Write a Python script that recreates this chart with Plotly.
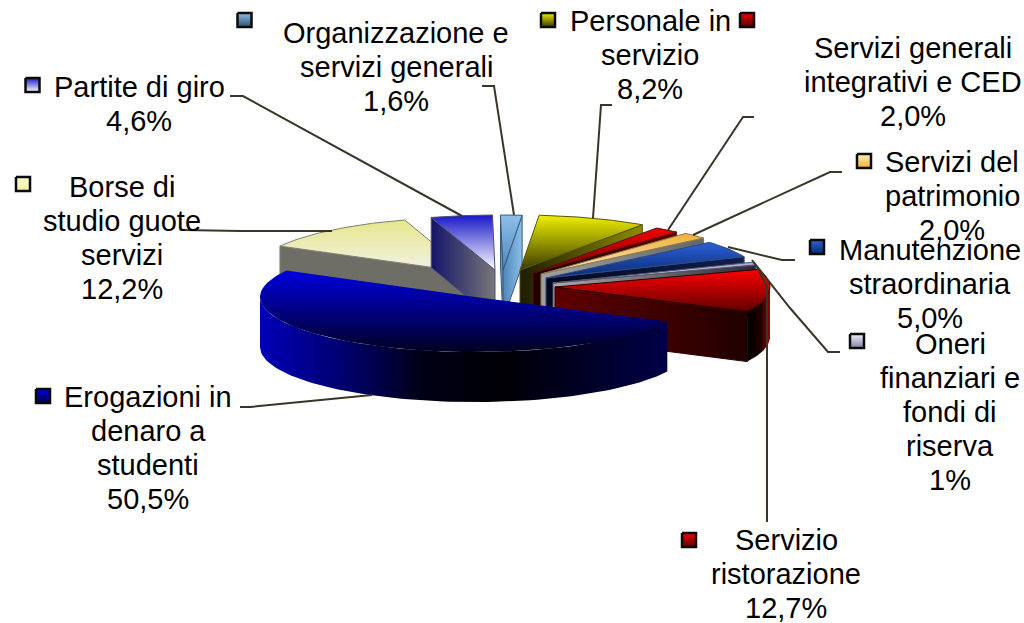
import numpy as np
import plotly.graph_objects as go

# ---- data (clockwise from the top of the pie) ----
categories = ["Personale in<br>servizio", "Servizi generali<br>integrativi e CED", "Servizi del<br>patrimonio",
              "Manutenzione<br>straordinaria", "Oneri<br>finanziari e<br>fondi di<br>riserva", "Servizio<br>ristorazione",
              "Erogazioni in<br>denaro a<br>studenti", "Borse di<br>studio guote<br>servizi", "Partite di giro",
              "Organizzazione e<br>servizi generali"]
values = [8.2, 2.0, 2.0, 5.0, 1.0, 12.7, 50.5, 12.2, 4.6, 1.6]
value_labels = ["8,2%", "2,0%", "2,0%", "5,0%", "1%", "12,7%", "50,5%", "12,2%", "4,6%", "1,6%"]

# ---- pie geometry ----
START_DEG, RX, RY, DEPTH = 5.1, 215, 55, 50
apex_x = [520, 533, 541, 546, 553, 555, 475, 468.5, 495, 503]
apex_y = [270, 273, 274, 278, 283, 287, 297, 272.5, 270, 270]
paint_order = [7, 8, 9, 0, 1, 2, 3, 4, 5, 6]

# ---- styles: top gradient, cut-face gradient, wall gradient, edge colour ----
top_cols = [("#f0f000", "#3a3a00"), ("#f40000", "#700000"), ("#f0b030", "#f8e8c8"), ("#2a60d8", "#0a2a70"),
            ("#a0a0d8", "#ecECF4"), ("#ff0000", "#600000"), ("#0000e0", "#000020"), ("#e6e68a", "#f2f2ea"),
            ("#1818c8", "#ffffff"), ("#8cc0ea", "#4e86b8")]
face_cols = [("#1c1c00", "#8c8c00"), ("#200000", "#600000"), ("#a0a0a0", "#666666"), ("#000820", "#102050"),
             ("#aaaaaa", "#2a2a3a"), ("#600000", "#200000"), ("#000030", "#000040"), ("#6e6e66", "#6e6e66"),
             ("#14146a", "#777777"), ("#4f85b8", "#8cbfe8")]
wall_cols = {5: [[0, "#000000"], [0.6, "#200000"], [1, "#a00000"]],
             6: [[0, "#0000b8"], [0.2, "#000070"], [0.4, "#000015"], [0.6, "#000005"], [1, "#000048"]]}
edge_cols = ["#55550a", "#5a1010", "#8a7a50", "#304a80", "#555566", "#300000", "rgba(0,0,0,0)", "#808070", "#50507a", "#3a5a78"]

leader_x = [[612, 601, 593], [754, 743, 668], [842, 830, 693], [728, 782, 795], [752, 790, 828, 840],
            [757, 767, 767], [372, 250, 240], [332, 240, 183], [230, 243, 462], [482, 494, 514]]
leader_y = [[105, 105, 218], [117, 117, 230], [172, 172, 235], [247, 260, 260], [260, 308, 352, 352],
            [267, 287, 522], [395, 407, 407], [231, 231, 230], [96, 96, 216], [86, 86, 215]]
key_x = [548, 747, 864, 817, 857, 689, 43, 23, 32.5, 244.5]
key_y = [20, 20, 161, 247, 341, 540, 396, 184, 85, 20]
key_cols = [("#f0f000", "#3a3a00"), ("#f40000", "#500000"), ("#fff2c0", "#f0b030"), ("#2a60d8", "#0a2a70"),
            ("#f0f0f8", "#8080a8"), ("#ff0000", "#500000"), ("#0000e0", "#000050"), ("#fbfbd8", "#f0f09a"),
            ("#1818c8", "#ffffff"), ("#8cc0ea", "#30506e")]
text_x = [650, 913, 952, 930, 950, 786, 148, 122, 139, 396]
text_y = [55, 82, 196, 284, 412, 574, 448, 238, 104, 67]
LINE_H = 34

fig = go.Figure()


def poly(xs, ys, cols, kind, line="rgba(0,0,0,0)", lw=1):
    scale = cols if isinstance(cols, list) else [[0, cols[0]], [1, cols[1]]]
    xs, ys = list(xs), list(ys)
    grad = dict(type=kind, colorscale=scale)
    if kind == "vertical":
        grad.update(start=float(min(ys)), stop=float(max(ys)))
    fig.add_trace(go.Scatter(x=xs, y=ys, mode="lines", fill="toself", fillgradient=grad,
                             line=dict(color=line, width=lw), hoverinfo="skip", showlegend=False))


shares = np.array(values) / sum(values) * 360
starts = START_DEG + np.concatenate([[0], np.cumsum(shares)[:-1]])
ends = starts + shares


def rim(ax, ay, deg):
    t = np.radians(deg)
    return ax + RX * np.sin(t), ay - RY * np.cos(t)


def cut_face(i, deg):
    ox, oy = rim(apex_x[i], apex_y[i], deg)
    ax, ay = apex_x[i], apex_y[i]
    poly([ax, ox, ox, ax, ax], [ay, oy, oy + DEPTH, ay + DEPTH, ay], face_cols[i], "horizontal", edge_cols[i])


for i in paint_order:
    a1, a2 = starts[i], ends[i]
    ax, ay = apex_x[i], apex_y[i]
    if np.sin(np.radians(a1)) < 0:
        cut_face(i, a1)
    if np.sin(np.radians(a2)) > 0:
        cut_face(i, a2)
    lo, hi = max(a1, 90), min(a2, 270)
    if i in wall_cols and lo < hi:
        xs, ys = rim(ax, ay, np.linspace(lo, hi, 80))
        poly(np.r_[xs, xs[::-1], xs[0]], np.r_[ys, ys[::-1] + DEPTH, ys[0]], wall_cols[i], "horizontal")
    xs, ys = rim(ax, ay, np.linspace(a1, a2, 80))
    poly(np.r_[ax, xs, ax], np.r_[ay, ys, ay], top_cols[i], "vertical", edge_cols[i])

for lx, ly in zip(leader_x, leader_y):
    fig.add_trace(go.Scatter(x=lx, y=ly, mode="lines", line=dict(color="#3a3528", width=2),
                             hoverinfo="skip", showlegend=False))

KEY = 7
for kx, ky, kc in zip(key_x, key_y, key_cols):
    poly([kx - KEY, kx + KEY, kx + KEY, kx - KEY, kx - KEY], [ky - KEY, ky - KEY, ky + KEY, ky + KEY, ky - KEY],
         kc, "vertical", "#0a0a0a", 2.5)

for name, val, tx, ty in zip(categories, value_labels, text_x, text_y):
    lines = name.split("<br>") + [val]
    for k, ln in enumerate(lines):
        fig.add_annotation(x=tx, y=ty + (k - (len(lines) - 1) / 2) * LINE_H, text=ln, showarrow=False,
                           xanchor="center", yanchor="middle",
                           font=dict(family="Liberation Sans, Arial, sans-serif", size=29, color="#000000"))

fig.update_layout(width=1024, height=623, margin=dict(l=0, r=0, t=0, b=0),
                  autosize=False, paper_bgcolor="white", plot_bgcolor="white", showlegend=False,
                  xaxis=dict(range=[0, 1024], visible=False, fixedrange=True),
                  yaxis=dict(range=[623, 0], visible=False, fixedrange=True))
fig.write_html("out.html", config={"displayModeBar": False},
               post_script="document.body.style.margin='0';document.body.style.overflow='hidden';")
